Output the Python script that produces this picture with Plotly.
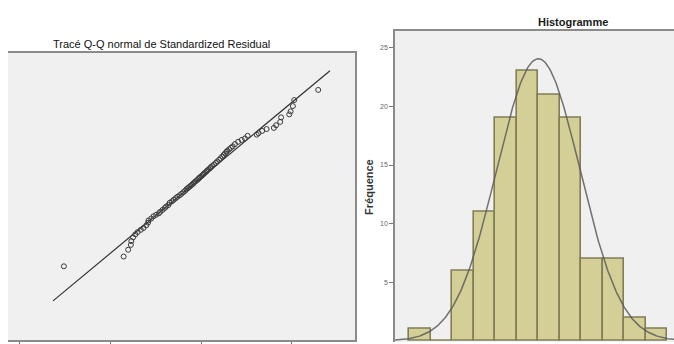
import numpy as np
import plotly.graph_objects as go

# ---------------- data ----------------
# Q-Q plot: observed standardized residual (x) vs expected normal value (y)
qq_observed = [-3.03, -1.71, -1.61, -1.55, -1.54, -1.50, -1.45, -1.40, -1.33, -1.27,
               -1.21, -1.17, -1.16, -1.10, -1.05, -0.99, -0.93, -0.90, -0.85, -0.80,
               -0.77, -0.72, -0.69, -0.64, -0.60, -0.56, -0.52, -0.47, -0.43, -0.39,
               -0.35, -0.32, -0.29, -0.26, -0.23, -0.20, -0.17, -0.15, -0.12, -0.09,
               -0.06, -0.04, -0.02, 0.01, 0.04, 0.06, 0.09, 0.12, 0.14, 0.17,
               0.20, 0.22, 0.25, 0.29, 0.33, 0.36, 0.40, 0.43, 0.47, 0.50,
               0.53, 0.56, 0.58, 0.62, 0.66, 0.70, 0.75, 0.82, 0.90, 0.97,
               1.03, 1.23, 1.27, 1.35, 1.45, 1.61, 1.66, 1.75, 1.77, 1.95,
               1.98, 2.03, 2.06, 2.59]
qq_expected = [-2.35, -2.09, -1.91, -1.78, -1.68, -1.58, -1.50, -1.44, -1.38, -1.33,
               -1.26, -1.19, -1.13, -1.08, -1.02, -0.98, -0.94, -0.90, -0.85, -0.80,
               -0.76, -0.72, -0.66, -0.62, -0.58, -0.54, -0.50, -0.46, -0.42, -0.38,
               -0.34, -0.30, -0.27, -0.24, -0.21, -0.18, -0.15, -0.12, -0.09, -0.06,
               -0.03, 0.00, 0.02, 0.05, 0.08, 0.11, 0.14, 0.17, 0.20, 0.23,
               0.26, 0.29, 0.32, 0.36, 0.40, 0.44, 0.48, 0.52, 0.57, 0.61,
               0.65, 0.69, 0.72, 0.76, 0.80, 0.84, 0.90, 0.96, 1.01, 1.05,
               1.12, 1.15, 1.19, 1.25, 1.30, 1.33, 1.40, 1.49, 1.61, 1.69,
               1.77, 1.91, 2.07, 2.34]
qq_line_x = [-3.27, 2.85]   # reference line y = x
qq_xticks = [-4, -2, 0, 2]

# Histogram
hist_left_edges = [-3.0, -2.5, -2.0, -1.5, -1.0, -0.5, 0.0, 0.5, 1.0, 1.5, 2.0, 2.5]
hist_counts = [1, 0, 6, 11, 19, 23, 21, 19, 7, 7, 2, 1]
hist_bin_width = 0.5
curve_mean = 0.0
curve_sd = 0.97
hist_yticks = [5, 10, 15, 20, 25]

TITLE_QQ = "Tracé Q-Q normal de Standardized Residual"
TITLE_HIST = "Histogramme"
YLABEL_HIST = "Fréquence"

# ---------------- figure ----------------
W, H = 674, 344
def px(x):
    return x / W
def py(y):
    return 1 - y / H

FONT = "Liberation Sans, Arial, sans-serif"
fig = go.Figure()

# Q-Q panel
fig.add_trace(go.Scatter(x=qq_line_x, y=qq_line_x, mode="lines",
                         line=dict(color="#333333", width=1.2),
                         xaxis="x", yaxis="y", showlegend=False, hoverinfo="skip"))
fig.add_trace(go.Scatter(x=qq_observed, y=qq_expected, mode="markers",
                         marker=dict(symbol="circle-open", size=5,
                                     color="#3a3a3a", line=dict(width=1, color="#3a3a3a")),
                         xaxis="x", yaxis="y", showlegend=False))

# Histogram panel
centers = [e + hist_bin_width / 2 for e in hist_left_edges]
fig.add_trace(go.Bar(x=centers, y=hist_counts, width=hist_bin_width,
                     marker=dict(color="#d4ce97", line=dict(color="#807e55", width=1.6)),
                     xaxis="x2", yaxis="y2", showlegend=False))
n_total = sum(hist_counts)
cx = np.linspace(-3.4, 3.4, 300)
cy = n_total * hist_bin_width * np.exp(-0.5 * ((cx - curve_mean) / curve_sd) ** 2) / (curve_sd * np.sqrt(2 * np.pi))
fig.add_trace(go.Scatter(x=cx, y=cy, mode="lines",
                         line=dict(color="rgba(90,90,90,0.85)", width=1.5),
                         xaxis="x2", yaxis="y2", showlegend=False, hoverinfo="skip"))

fig.update_layout(
    width=W, height=H,
    margin=dict(l=0, r=0, t=0, b=0),
    paper_bgcolor="white",
    plot_bgcolor="#f0f0f0",
    font=dict(family=FONT, color="#222222"),
    bargap=0,
    xaxis=dict(domain=[px(8), px(355)], range=[-4.265, 3.403],
               tickvals=qq_xticks, showticklabels=False,
               ticks="outside", ticklen=4, tickcolor="#777777",
               showline=True, linecolor="#8a8a8a", linewidth=1.5, mirror=True,
               showgrid=False, zeroline=False),
    yaxis=dict(domain=[py(342), py(53)], range=[-4.31, 3.33], side="right",
               showticklabels=False, ticks="", showline=True, linecolor="#8a8a8a",
               linewidth=1.5, mirror=False, showgrid=False, zeroline=False),
    xaxis2=dict(domain=[px(395), 1], range=[-3.333, 3.156], anchor="y2", side="top",
                showticklabels=False, ticks="", showline=True, linecolor="#8a8a8a",
                linewidth=1.5, mirror=False, showgrid=False, zeroline=False),
    yaxis2=dict(domain=[0, py(31)], range=[-0.085, 26.44], anchor="x2",
                tickvals=hist_yticks, ticks="outside", ticklen=4, tickcolor="#777777",
                tickfont=dict(size=7, color="#666666"),
                showline=True, linecolor="#8a8a8a", linewidth=1.5,
                showgrid=False, zeroline=False),
    annotations=[
        dict(text=TITLE_QQ, x=px(161), y=py(44), xref="paper", yref="paper",
             showarrow=False, xanchor="center", yanchor="middle",
             font=dict(size=11, color="#111111")),
        dict(text="<b>" + TITLE_HIST + "</b>", x=px(573), y=py(22), xref="paper", yref="paper",
             showarrow=False, xanchor="center", yanchor="middle",
             font=dict(size=11, color="#1a1a1a")),
        dict(text="<b>" + YLABEL_HIST + "</b>", x=px(369), y=py(188), xref="paper", yref="paper",
             showarrow=False, xanchor="center", yanchor="middle", textangle=-90,
             font=dict(size=11, color="#333333")),
    ],
)

fig.write_html("out.html")
